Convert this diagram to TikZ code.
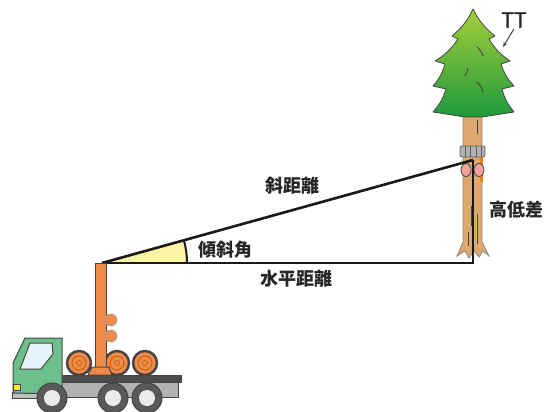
\documentclass[tikz,border=0pt]{standalone}
\usepackage{fontspec}
\newfontfamily\jp{Noto Sans CJK JP}
\usetikzlibrary{arrows.meta}
\definecolor{mastorange}{HTML}{EE8A4A}
\definecolor{cabgreen}{HTML}{6CC08B}
\definecolor{glass}{HTML}{E6F2FC}
\definecolor{wedgeyellow}{HTML}{FFF4A3}
\definecolor{bark}{HTML}{DCA86E}
\definecolor{leaftop}{HTML}{A4CE3A}
\definecolor{leafbottom}{HTML}{1E9A3C}
\definecolor{outline}{HTML}{444444}
\definecolor{padpink}{HTML}{F2A29C}

\begin{document}
\begin{tikzpicture}[x=1pt, y=-1pt,
  jptext/.style={font=\jp\bfseries\fontsize{18}{18}\selectfont, text=black!85, inner sep=1pt},
  part/.style={draw=outline, line width=1pt},
  logend/.style={part, fill=mastorange, line width=2.4pt},
  wheel/.style={draw=outline, fill=black!65, line width=1pt},
  measure/.style={line width=2.6pt, black!90}]
	\useasboundingbox (0,0) rectangle (546,412);

	\coordinate (base) at (102,263);
	\coordinate (foot) at (473,263);
	\coordinate (hit) at (473,160);
	\coordinate (crown) at (503,47);

	% tree
	\path[fill=bark, draw=black!45, line width=0.8pt] (463,114) -- (463,242) -- (457,256) -- (465,251) -- (469,258) -- (474,251)
		-- (479,257) -- (483,251) -- (489,256) -- (482,242) -- (482,114) -- cycle;
	\draw[outline, line width=1pt] (477,120) -- (477,134) (471,206) -- (471,226) (477,214) -- (477,244) (468,232) -- (468,246);
	\path[top color=leaftop, bottom color=leafbottom, draw=outline, line width=0.8pt, line join=round]
		(473,9) to[bend right=12] (495,36) -- (489,39) to[bend right=12] (510,61) -- (501,64) to[bend right=12] (514,86)
		-- (502,89) to[bend right=12] (514,112) -- (482,117) -- (465,117) -- (433,112)
		to[bend right=12] (446,89) -- (433,86) to[bend right=12] (445,64) -- (435,61)
		to[bend right=12] (458,39) -- (452,36) to[bend right=12] cycle;
	\draw[outline, line width=0.9pt] (477,47) to[bend left=15] (483,56) (468,68) to[bend left=10] (465,76) (477,82) to[bend left=15] (483,92);
	\fill[orange!70!brown] (480,150) rectangle (483,182);
	\path[fill=black!30, draw=black!60, line width=0.8pt, rounded corners=2pt] (460,146) rectangle (485,157);
	\draw[black!65, line width=0.7pt] (465,146) -- (465,157) (470,146) -- (470,157) (476,146) -- (476,157) (481,146) -- (481,157);
	\path[fill=padpink, draw=outline, line width=0.8pt] (466,170) ellipse[x radius=5, y radius=6.5];
	\path[fill=padpink, draw=outline, line width=0.8pt] (479,170) ellipse[x radius=5, y radius=6.5];

	% angle and distances
	\fill[wedgeyellow] (base) -- ++(85,0) arc[start angle=0, end angle=-15.5, radius=85] -- cycle;
	\draw[measure, line width=2pt] (base) ++(85,0) arc[start angle=0, end angle=-15.5, radius=85];
	\draw[measure] (base) -- (hit);
	\draw[measure] (base) -- (foot) -- (hit);

	\node[jptext] (slope) at (292,186) {斜距離};
	\node[jptext] (level) at (296,279) {水平距離};
	\node[jptext] (height) at (516,210) {高低差};
	\node[jptext] (angle) at (225,250) {傾斜角};
	\node[font=\jp\fontsize{21}{21}\selectfont, text=black!85, inner sep=1pt] (tt) at (514,20) {\addfontfeature{FakeBold=1.5}TT};
	\draw[-{Stealth[length=5pt]}, outline, line width=1pt] (tt.south) -- (crown);

	% truck
	\path[part, fill=black!25] (12,392) rectangle (57,398);
	\path[part, fill=black!30] (57,382) rectangle (178,397);
	\path[part, fill=black!70] (57,375) rectangle (181,382);
	\path[part, fill=cabgreen] (13,393) -- (13,363) -- (25,338) -- (62,338) -- (62,394) -- cycle;
	\path[part, fill=glass] (20,369) -- (30,343) -- (52,343) -- (53,354) -- (41,369) -- cycle;
	\path[part, fill=yellow, line width=0.6pt] (13,384) rectangle (20,390);
	\foreach \x in {52,113,147} {
		\path[wheel] (\x,398) circle[radius=15];
		\path[fill=black!8] (\x,398) circle[radius=8];
	}
	\foreach \x in {79,117,145} {
		\path[logend] (\x,363) circle[radius=12];
		\draw[orange!75!black, line width=0.8pt] (\x,363) circle[radius=7];
		\draw[orange!75!black, line width=0.6pt] (\x,363) circle[radius=2.5];
	}
	\path[part, fill=mastorange] (95,263) rectangle (106,370);
	\path[part, fill=mastorange] (88,375) -- (92,367) -- (109,367) -- (112,375) -- cycle;
	\path[draw=black!35, fill=mastorange, line width=0.8pt] (111,320) circle[radius=6];
	\path[draw=black!35, fill=mastorange, line width=0.8pt] (111,336) circle[radius=6];
\end{tikzpicture}
\end{document}
